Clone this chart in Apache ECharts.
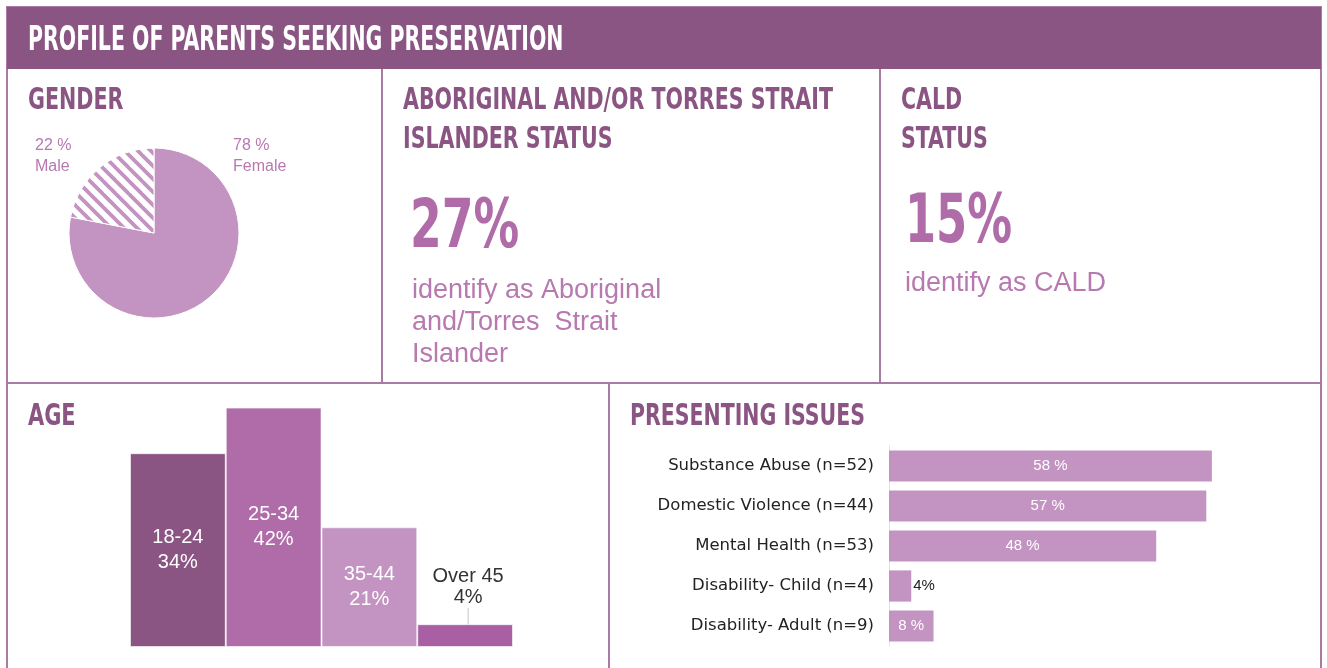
<!DOCTYPE html>
<html>
<head>
<meta charset="utf-8">
<script src="https://cdn.jsdelivr.net/npm/echarts@6/dist/echarts.min.js"></script>
<style>
html,body{margin:0;padding:0;background:#fff;}
#c{width:1327px;height:668px;}
</style>
</head>
<body>
<div id="c"></div>
<script>
// ---- data ----
const pageTitle = 'PROFILE OF PARENTS SEEKING PRESERVATION';
const genderCats = ['Female', 'Male'];
const genderVals = [78, 22];
const atsiPct = 27;
const caldPct = 15;
const ageCats = ['18-24', '25-34', '35-44', 'Over 45'];
const ageVals = [34, 42, 21, 4];
const issueCats = ['Substance Abuse (n=52)', 'Domestic Violence (n=44)', 'Mental Health (n=53)', 'Disability- Child (n=4)', 'Disability- Adult (n=9)'];
const issueVals = [58, 57, 48, 4, 8];
const issueLabels = ['58 %', '57 %', '48 %', '4%', '8 %'];

// ---- styles ----
const DARK = '#8A5483';
const MID = '#B06CA8';
const LIGHT = '#C393C2';
const LINE = '#A97BA3';
const TXT = '#B779B0';
const COND = "'DejaVu Sans Condensed','Liberation Sans Narrow','DejaVu Sans',sans-serif";
const ageColors = [DARK, MID, LIGHT, '#A95FA3'];

function stripe() {
  const s = 13, c = document.createElement('canvas');
  c.width = s; c.height = s;
  const g = c.getContext('2d');
  g.fillStyle = '#fff'; g.fillRect(0, 0, s, s);
  g.strokeStyle = LIGHT; g.lineWidth = 3.8;
  [-s, 0, s].forEach(k => { g.beginPath(); g.moveTo(k - 2, -2); g.lineTo(k + s + 2, s + 2); g.stroke(); });
  return c;
}

function head(text, x, y, size, sx, color, lh) {
  return {
    type: 'text', x: x, y: y, scaleX: sx, originX: 0, originY: 0, z: 10,
    style: { text: text, x: 0, y: 0, fill: color, fontSize: size, fontWeight: 'bold', fontFamily: COND,
      lineHeight: lh || size, align: 'left', verticalAlign: 'middle', textAlign: 'left', textVerticalAlign: 'middle' }
  };
}
function body(text, x, y, size, color, family, lh) {
  return {
    type: 'text', x: x, y: y, z: 10,
    style: { text: text, x: 0, y: 0, fill: color, fontSize: size, fontFamily: family || "'Liberation Sans',Arial,sans-serif",
      lineHeight: lh || size * 1.2, align: 'left', verticalAlign: 'top', textAlign: 'left', textVerticalAlign: 'top' }
  };
}
function line(x1, y1, x2, y2) {
  return { type: 'line', z: 5, shape: { x1: x1, y1: y1, x2: x2, y2: y2 }, style: { stroke: LINE, lineWidth: 2 } };
}

const chart = echarts.init(document.getElementById('c'), null, { renderer: 'canvas' });
chart.setOption({
  animation: false,
  backgroundColor: '#fff',
  graphic: [
    { type: 'rect', z: 4, shape: { x: 7, y: 7, width: 1314, height: 700 }, style: { fill: 'none', stroke: LINE, lineWidth: 2 } },
    { type: 'rect', z: 6, shape: { x: 7, y: 7, width: 1314, height: 62 }, style: { fill: DARK } },
    line(7, 383, 1321, 383),
    line(382, 69, 382, 383),
    line(880, 69, 880, 383),
    line(609, 383, 609, 668),
    head(pageTitle, 28, 41, 34, 0.67, '#fff'),
    head('GENDER', 28, 101, 31, 0.74, DARK),
    head('ABORIGINAL AND/OR TORRES STRAIT\nISLANDER STATUS', 403, 120.5, 31, 0.737, DARK, 39),
    head('CALD\nSTATUS', 901, 120.5, 31, 0.737, DARK, 39),
    head('AGE', 28, 417, 31, 0.75, DARK),
    head('PRESENTING ISSUES', 630, 417, 31, 0.735, DARK),
    head(atsiPct + '%', 410, 230, 67, 0.757, MID),
    head(caldPct + '%', 905, 225, 67, 0.742, MID),
    body('identify as Aboriginal\nand/Torres  Strait\nIslander', 412, 275, 27, TXT, null, 32),
    body('identify as CALD', 905, 268, 27, TXT, null, 32),
    body(genderVals[1] + ' %\n' + genderCats[1], 35, 135, 16, TXT, "'Liberation Sans Narrow','Liberation Sans',sans-serif", 21),
    body(genderVals[0] + ' %\n' + genderCats[0], 233, 135, 16, TXT, "'Liberation Sans Narrow','Liberation Sans',sans-serif", 21)
  ],
  grid: [
    { left: 130, right: 814, top: 390.5, bottom: 21 },
    { left: 889, width: 334, top: 446, bottom: 22 }
  ],
  xAxis: [
    { gridIndex: 0, type: 'category', data: ageCats, show: false },
    { gridIndex: 1, type: 'value', min: 0, max: 60, show: false }
  ],
  yAxis: [
    { gridIndex: 0, type: 'value', min: 0, max: 45, show: false },
    { gridIndex: 1, type: 'category', data: issueCats, inverse: true,
      axisLine: { show: true, lineStyle: { color: '#e4e4e4', width: 1 } },
      axisTick: { show: false },
      axisLabel: { margin: 15, fontSize: 16.5, color: '#222', fontFamily: "'DejaVu Sans',sans-serif" } }
  ],
  series: [
    {
      type: 'pie', center: [154, 233], radius: 85, startAngle: 90, clockwise: true,
      label: { show: false }, labelLine: { show: false }, silent: true,
      itemStyle: { borderColor: '#fff', borderWidth: 1 },
      data: genderCats.map((n, i) => ({
        name: n, value: genderVals[i],
        itemStyle: { color: i === 0 ? LIGHT : { image: stripe(), repeat: 'repeat' } }
      }))
    },
    {
      type: 'bar', xAxisIndex: 0, yAxisIndex: 0, barCategoryGap: 0,
      itemStyle: { borderColor: 'rgba(255,255,255,0.6)', borderWidth: 1 },
      labelLine: { show: true, lineStyle: { color: '#c4c4c4', width: 1 } },
      labelLayout: p => (p.dataIndex === 3 ? { dy: -12, dx: 3 } : {}),
      data: ageVals.map((v, i) => ({
        value: v,
        itemStyle: { color: ageColors[i] },
        label: i < 3
          ? { show: true, position: 'inside', color: '#fff', lineHeight: 25 }
          : { show: true, position: 'top', distance: 4, color: '#333', lineHeight: 21 }
      })),
      label: {
        fontSize: 20, fontFamily: "'Liberation Sans',Arial,sans-serif",
        formatter: p => p.name + '\n' + p.value + '%'
      }
    },
    {
      type: 'bar', xAxisIndex: 1, yAxisIndex: 1, barCategoryGap: '22%',
      itemStyle: { color: LIGHT },
      data: issueVals.map((v, i) => ({
        value: v,
        label: v < 5
          ? { show: true, position: 'right', distance: 2, color: '#222' }
          : { show: true, position: 'inside', color: '#fff' }
      })),
      label: {
        fontSize: 15, fontFamily: "'Liberation Sans',Arial,sans-serif",
        formatter: p => issueLabels[p.dataIndex]
      }
    }
  ]
});
</script>
</body>
</html>
